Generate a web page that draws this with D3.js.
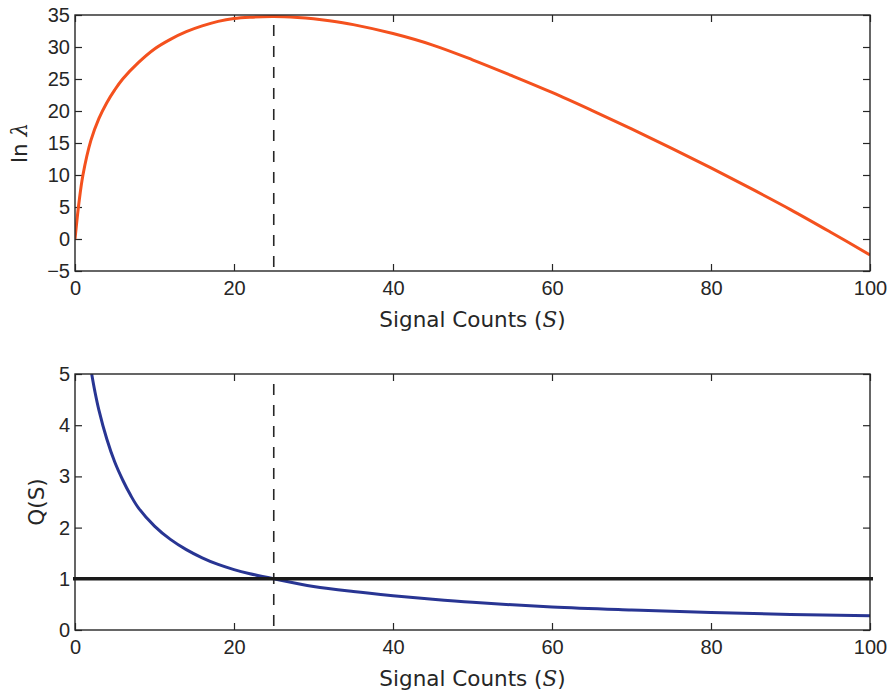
<!DOCTYPE html>
<html>
<head>
<meta charset="utf-8">
<script src="https://cdn.jsdelivr.net/npm/d3@7"></script>
<style>
  body { margin: 0; background: #fff; }
  svg { display: block; font-family: "DejaVu Sans", sans-serif; }
  .tick text { font-size: 20px; fill: #262626; }
</style>
</head>
<body>
<svg width="894" height="693"></svg>
<script>
// ln(lambda) vs signal counts
var lnS = [0, 0.5, 1, 2, 3, 4, 5, 6, 8, 10, 12, 14, 16, 18, 20, 22, 25, 28, 30, 32, 35, 40, 45, 50, 55, 60, 65, 70, 75, 80, 85, 90, 95, 100];
var lnLambda = [0, 5.7, 10.0, 15.4, 18.8, 21.3, 23.3, 25.0, 27.6, 29.7, 31.2, 32.4, 33.3, 34.0, 34.45, 34.65, 34.75, 34.6, 34.4, 34.1, 33.5, 32.1, 30.3, 28.0, 25.5, 22.9, 20.1, 17.2, 14.2, 11.1, 7.9, 4.6, 1.1, -2.5];

// Q(S) vs signal counts
var qS = [2.1, 2.5, 3, 4, 5, 6, 7, 8, 10, 12, 14, 16, 18, 20, 22, 25, 30, 35, 40, 45, 50, 60, 70, 80, 90, 100];
var qVal = [5.0, 4.66, 4.30, 3.73, 3.28, 2.93, 2.63, 2.38, 2.03, 1.77, 1.57, 1.41, 1.28, 1.18, 1.10, 1.0, 0.85, 0.75, 0.67, 0.60, 0.54, 0.45, 0.39, 0.34, 0.305, 0.28];

var sMax = 25;      // dashed line position
var qRef = 1;       // horizontal reference line
var xTicks = [0, 20, 40, 60, 80, 100];
var topTicks = [-5, 0, 5, 10, 15, 20, 25, 30, 35];
var botTicks = [0, 1, 2, 3, 4, 5];

var svg = d3.select("svg");
var left = 75, right = 870;
var x = d3.scaleLinear().domain([0, 100]).range([left, right]);

function panel(top, bottom, yDomain, yTicks, xs, ys, color) {
    var y = d3.scaleLinear().domain(yDomain).range([bottom, top]);
    var g = svg.append("g");
    var tl = 7;

    // axes with inward ticks on all sides
    var ax = [
        [d3.axisBottom(x).tickValues(xTicks).tickSizeInner(-tl).tickSizeOuter(0).tickPadding(10), "translate(0," + bottom + ")", true],
        [d3.axisTop(x).tickValues(xTicks).tickSizeInner(-tl).tickSizeOuter(0), "translate(0," + top + ")", false],
        [d3.axisLeft(y).tickValues(yTicks).tickSizeInner(-tl).tickSizeOuter(0).tickPadding(5).tickFormat(function (d) { return d < 0 ? "\u2212" + Math.abs(d) : d; }), "translate(" + left + ",0)", true],
        [d3.axisRight(y).tickValues(yTicks).tickSizeInner(-tl).tickSizeOuter(0), "translate(" + right + ",0)", false]
    ];
    ax.forEach(function (a) {
        var ag = g.append("g").attr("transform", a[1]).call(a[0]);
        ag.select(".domain").remove();
        ag.selectAll(".tick line").attr("stroke", "#262626").attr("stroke-width", 1.2);
        if (!a[2]) ag.selectAll(".tick text").remove();
    });

    var clip = "clip" + top;
    svg.append("clipPath").attr("id", clip).append("rect")
        .attr("x", left).attr("y", top).attr("width", right - left).attr("height", bottom - top);

    g.append("line")
        .attr("x1", x(sMax)).attr("x2", x(sMax))
        .attr("y1", top).attr("y2", bottom)
        .attr("stroke", "#262626").attr("stroke-width", 1.6)
        .attr("stroke-dasharray", "11,10")
        .attr("stroke-dashoffset", -10);

    var line = d3.line()
        .x(function (d, i) { return x(xs[i]); })
        .y(function (d) { return y(d); })
        .curve(d3.curveCatmullRom);

    g.append("path")
        .datum(ys)
        .attr("clip-path", "url(#" + clip + ")")
        .attr("fill", "none")
        .attr("stroke", color)
        .attr("stroke-width", 3)
        .attr("stroke-linejoin", "round")
        .attr("d", line);

    g.append("rect")
        .attr("x", left).attr("y", top)
        .attr("width", right - left).attr("height", bottom - top)
        .attr("fill", "none").attr("stroke", "#262626").attr("stroke-width", 1.4);

    var xl = g.append("text")
        .attr("x", (left + right) / 2).attr("y", bottom + 56)
        .attr("text-anchor", "middle")
        .attr("font-size", 21.5).attr("fill", "#262626")
        .text("Signal Counts (");
    xl.append("tspan").attr("font-family", "DejaVu Serif, serif").attr("font-style", "italic").text("S");
    xl.append("tspan").text(")");

    return { g: g, y: y };
}

var p1 = panel(15, 271, [-5, 35], topTicks, lnS, lnLambda, "#f4511e");
var p2 = panel(374, 630, [0, 5], botTicks, qS, qVal, "#283593");

// reference line Q = 1
p2.g.append("line")
    .attr("x1", left - 2).attr("x2", right + 3)
    .attr("y1", p2.y(qRef)).attr("y2", p2.y(qRef))
    .attr("stroke", "#1a1a1a").attr("stroke-width", 3.5);

// y labels
var yl1 = svg.append("text")
    .attr("transform", "translate(27," + 143 + ") rotate(-90)")
    .attr("text-anchor", "middle").attr("font-size", 21.5).attr("fill", "#262626")
    .text("ln ");
yl1.append("tspan").attr("font-family", "DejaVu Serif, serif").attr("font-style", "italic").text("\u03bb");

svg.append("text")
    .attr("transform", "translate(44," + 502 + ") rotate(-90)")
    .attr("text-anchor", "middle").attr("font-size", 21.5).attr("fill", "#262626")
    .text("Q(S)");
</script>
</body>
</html>
